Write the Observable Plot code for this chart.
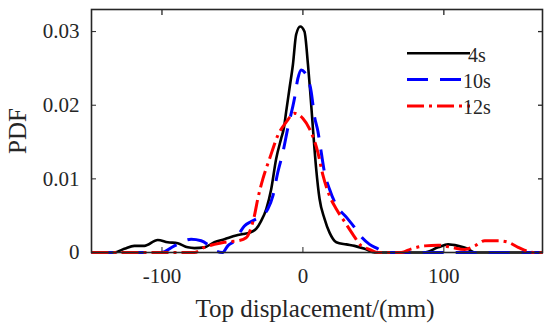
<!DOCTYPE html>
<html>
<head>
<meta charset="utf-8">
<script src="https://cdn.jsdelivr.net/npm/d3@7"></script>
<script src="https://cdn.jsdelivr.net/npm/@observablehq/plot@0.6"></script>
<style>
  html, body { margin: 0; padding: 0; background: #fff; }
  #chart { position: relative; width: 550px; height: 329px; }
  #chart svg { display: block; }
  #chart svg text { font-family: "Liberation Serif", "Times New Roman", serif !important; font-variant: normal !important; }
</style>
</head>
<body>
<div id="chart"></div>
<script>
// ---- data ----
const seriesNames = ["4s", "10s", "12s"];
const seriesColors = ["#000000", "#0000ff", "#ff0000"];
const seriesDash = [null, "21,12", "17,5,3,5"];
const seriesWidth = [2.6, 3, 3];

const xTicks = [-100, 0, 100];
const yTicks = [0, 0.01, 0.02, 0.03];
const xLabel = "Top displacement/(mm)";
const yLabel = "PDF";

// 4s
const x4s = [-150, -134, -126.7, -119.6, -112.5, -103, -95.9, -88.8, -81.7, -77, -69.9, -62.8, -55.7, -47.4, -42.6, -37.9, -33.2, -29.6, -26, -22.5, -19, -15.4, -13.5, -11.9, -9.5, -7.1, -4.8, -1.9, 1.1, 3.6, 5.2, 7.1, 9.4, 11.8, 15.3, 18.9, 23.7, 30.8, 36.6, 43.8, 51, 86, 96, 103, 110, 117, 122, 170];
const p4s = [0, 0, 0.0005, 0.0009, 0.0009, 0.0017, 0.0014, 0.00125, 0.0007, 0.0006, 0.0007, 0.0014, 0.0018, 0.0023, 0.0025, 0.0027, 0.0032, 0.0043, 0.0059, 0.0086, 0.0127, 0.0155, 0.0169, 0.0191, 0.0223, 0.0255, 0.0296, 0.0307, 0.0300, 0.0255, 0.0218, 0.0169, 0.0114, 0.0073, 0.0046, 0.0027, 0.0014, 0.0011, 0.0009, 0.0005, 0, 0, 0.0007, 0.0011, 0.0009, 0.0005, 0, 0];

// 10s
const x10s = [-150, -100.6, -91.2, -79.3, -72.2, -66.3, -61.6, -57, -53.3, -48.6, -44.5, -41.5, -36.7, -30.8, -24.9, -21.3, -17.8, -14.2, -10.6, -6, -3.6, -1.2, 1.1, 5.9, 8.2, 10.6, 13, 15.3, 18.9, 23.7, 30.8, 36.6, 39, 47.3, 53.3, 58, 170];
const p10s = [0, 0, 0.0009, 0.0018, 0.0016, 0.0009, 0.0002, 0, 0.0009, 0.0016, 0.0028, 0.0036, 0.0042, 0.0048, 0.0059, 0.0077, 0.0109, 0.0136, 0.0170, 0.0209, 0.0236, 0.0248, 0.0245, 0.0218, 0.0185, 0.0165, 0.0136, 0.0109, 0.0086, 0.0064, 0.0048, 0.0034, 0.0027, 0.0011, 0.0005, 0, 0];

// 12s
const x12s = [-150, -77, -69.9, -62.8, -55.7, -46, -40.3, -36.7, -34.4, -32, -28.4, -23.7, -17.8, -11.9, -6, 0, 4.7, 10.6, 14.2, 18.9, 23.7, 29.5, 36, 41.4, 46.2, 53.3, 69.8, 77, 86.4, 95.9, 105.3, 114.8, 121.9, 129, 138.5, 145.6, 152.7, 158.6, 163.4, 170];
const p12s = [0, 0, 0.0007, 0.0011, 0.0014, 0.0016, 0.0020, 0.0034, 0.0050, 0.0073, 0.0100, 0.0127, 0.0159, 0.0177, 0.0189, 0.0182, 0.0168, 0.0136, 0.0105, 0.0077, 0.0059, 0.0042, 0.0023, 0.0009, 0.0005, 0, 0, 0.0005, 0.0009, 0.0010, 0.0007, 0.0004, 0.0009, 0.0016, 0.0016, 0.0014, 0.0007, 0.0002, 0, 0];

const seriesX = [x4s, x10s, x12s];
const seriesP = [p4s, p10s, p12s];

// ---- build ----
const font = "Liberation Serif, Times New Roman, serif";
const axisColor = "#262626";

const lineMarks = seriesNames.map((name, i) => {
  const rows = seriesX[i].map((x, j) => ({x, p: seriesP[i][j], name}));
  return Plot.line(rows, {
    x: "x", y: "p", stroke: seriesColors[i], strokeWidth: seriesWidth[i],
    strokeDasharray: seriesDash[i] || undefined, strokeLinecap: "butt",
    curve: "monotone-x"
  });
});

const chart = Plot.plot({
  width: 550,
  height: 329,
  marginLeft: 91,
  marginRight: 8,
  marginTop: 9,
  marginBottom: 77,
  style: {fontFamily: font, background: "#fff", color: axisColor},
  x: {domain: [-150, 170]},
  y: {domain: [0, 0.033]},
  marks: [
    ...lineMarks,
    Plot.axisX({anchor: "bottom", ticks: xTicks, tickSize: -5, tickPadding: 21, fontSize: 21, fontFamily: font, label: null,
      tickFormat: d => String(d)}),
    Plot.axisX({anchor: "top", ticks: xTicks, tickSize: -5, tickFormat: () => "", label: null, strokeWidth: 1.3}),
    Plot.axisY({anchor: "left", ticks: yTicks, tickSize: -5, tickPadding: 17, fontSize: 21, fontFamily: font, label: null,
      tickFormat: d => d === 0 ? "0" : d3.format(".2f")(d)}),
    Plot.axisY({anchor: "right", ticks: yTicks, tickSize: -5, tickFormat: () => "", label: null, strokeWidth: 1.3}),
    Plot.frame({stroke: axisColor, strokeWidth: 1.6})
  ]
});

document.getElementById("chart").appendChild(chart);

// axis titles and legend
const svg = d3.select(chart);
svg.append("text")
  .attr("x", 315).attr("y", 316.5)
  .attr("text-anchor", "middle")
  .style("font-size", "25px").attr("fill", axisColor)
  .text(xLabel);
svg.append("text")
  .attr("transform", "translate(25.5,131) rotate(-90)")
  .attr("text-anchor", "middle")
  .style("font-size", "25px").attr("fill", axisColor)
  .text(yLabel);

const legendRows = [53.3, 79.5, 106];
const leg = svg.append("g");
seriesNames.forEach((name, i) => {
  leg.append("line")
    .attr("x1", 407).attr("x2", 470)
    .attr("y1", legendRows[i]).attr("y2", legendRows[i])
    .attr("stroke", seriesColors[i]).attr("stroke-width", seriesWidth[i])
    .attr("stroke-dasharray", seriesDash[i])
    .attr("stroke-linecap", "butt");
  leg.append("text")
    .attr("x", 477).attr("y", legendRows[i] + 8.2)
    .style("font-size", "20px").attr("fill", axisColor)
    .text(name);
});
</script>
</body>
</html>
